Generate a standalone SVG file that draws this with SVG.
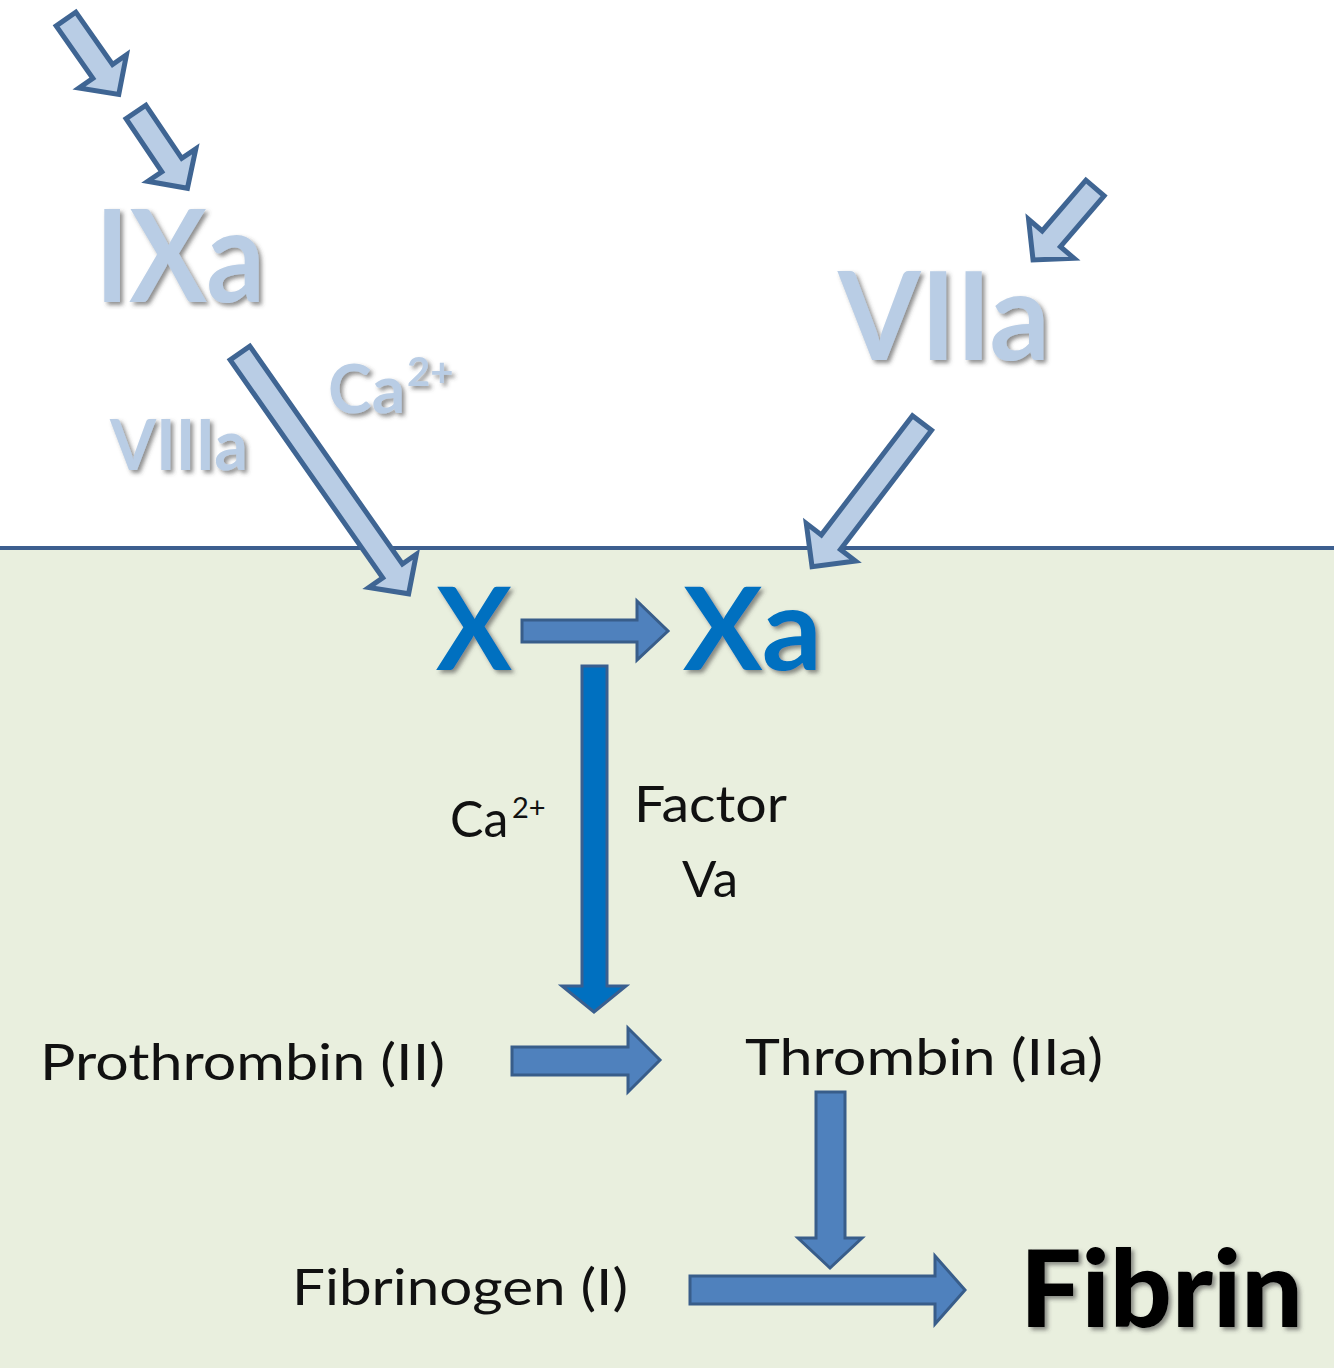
<svg xmlns="http://www.w3.org/2000/svg" width="1334" height="1368" viewBox="0 0 1334 1368">
<defs>
<style>
.bigl{font-family:Lato,"Open Sans",sans-serif;font-weight:bold;fill:#b9cde5;filter:url(#sh)}
.bigd{font-family:Lato,"Open Sans",sans-serif;font-weight:bold;fill:#0070c0;filter:url(#sh)}
.fib{font-family:Lato,"Open Sans",sans-serif;font-weight:900;fill:#000;filter:url(#sh)}
.lbl{font-family:Lato,"Open Sans",sans-serif;fill:#111;font-size:50px}
.la{fill:#b9cde5;stroke:#3f6593;stroke-width:5;stroke-linejoin:miter}
.ba{fill:#4f81bd;stroke:#385d8a;stroke-width:3}
.da{fill:#0070c0;stroke:#3a5f8f;stroke-width:3}
</style>
<filter id="sh" x="-20%" y="-20%" width="140%" height="140%">
<feDropShadow dx="3" dy="3" stdDeviation="2" flood-color="#444" flood-opacity="0.6"/>
</filter>
</defs>
<rect x="0" y="0" width="1334" height="548" fill="#ffffff"/>
<rect x="0" y="548" width="1334" height="820" fill="#e9efde"/>
<line x1="0" y1="548" x2="1334" y2="548" stroke="#3d5f8f" stroke-width="4"/>

<g id="connectors">
<polygon class="la" transform="translate(66,19) rotate(55)" points="0,-12 64,-12 64,-29 92,0 64,29 64,12 0,12"/>
<polygon class="la" transform="translate(136,112) rotate(56)" points="0,-12 64,-12 64,-29 92,0 64,29 64,12 0,12"/>
<polygon class="la" transform="translate(240,353) rotate(55)" points="0,-12 266,-12 266,-29 294,0 266,29 266,12 0,12"/>
<polygon class="la" transform="translate(922,423) rotate(127.4)" points="0,-12 150,-12 150,-31 181,0 150,31 150,12 0,12"/>
<polygon class="la" transform="translate(1095,188) rotate(130.7)" points="0,-12 67,-12 67,-30 95,0 67,30 67,12 0,12"/>
<polygon class="ba" points="522,620 637,620 637,601 668,631 637,660 637,642 522,642"/>
<polygon class="da" points="582,666 607,666 607,986 626,986 594,1012 562,986 582,986"/>
<polygon class="ba" points="512,1047 628,1047 628,1028 660,1060 628,1092 628,1075 512,1075"/>
<polygon class="ba" points="816,1092 845,1092 845,1238 862,1238 830,1268 798,1238 816,1238"/>
<polygon class="ba" points="690,1276 935,1276 935,1256 965,1290 935,1324 935,1304 690,1304"/>
</g>

<g id="node-IXa"><text class="bigl" x="95" y="302" font-size="128" textLength="170" lengthAdjust="spacingAndGlyphs">IXa</text></g>
<g id="node-VIIa"><text class="bigl" x="838" y="360" font-size="122" textLength="212" lengthAdjust="spacingAndGlyphs">VIIa</text></g>
<g id="label-VIIIa"><text class="bigl" x="110" y="470" font-size="70" textLength="138" lengthAdjust="spacingAndGlyphs">VIIIa</text></g>
<g id="label-Ca-top"><text class="bigl" x="328" y="413" font-size="66">Ca<tspan x="407" y="386" font-size="40">2+</tspan></text></g>
<g id="node-X"><text class="bigd" x="436" y="670" font-size="114" textLength="76" lengthAdjust="spacingAndGlyphs">X</text></g>
<g id="node-Xa"><text class="bigd" x="683" y="670" font-size="114" textLength="139" lengthAdjust="spacingAndGlyphs">Xa</text></g>
<g id="label-Ca-bottom"><text class="lbl" x="450" y="837" font-size="50">Ca<tspan x="512" y="818" font-size="29">2+</tspan></text></g>
<g id="label-FactorVa">
<text class="lbl" x="634" y="822" textLength="153" lengthAdjust="spacingAndGlyphs">Factor</text>
<text class="lbl" x="682" y="897" textLength="56" lengthAdjust="spacingAndGlyphs">Va</text>
</g>
<g id="node-Prothrombin"><text class="lbl" x="40" y="1080" font-size="51" textLength="405" lengthAdjust="spacingAndGlyphs">Prothrombin (II)</text></g>
<g id="node-Thrombin"><text class="lbl" x="745" y="1075" font-size="49" textLength="358" lengthAdjust="spacingAndGlyphs">Thrombin (IIa)</text></g>
<g id="node-Fibrinogen"><text class="lbl" x="292" y="1305" font-size="49" textLength="336" lengthAdjust="spacingAndGlyphs">Fibrinogen (I)</text></g>
<g id="node-Fibrin"><text class="fib" x="1020" y="1327" font-size="106" textLength="283" lengthAdjust="spacingAndGlyphs">Fibrin</text></g>
</svg>
